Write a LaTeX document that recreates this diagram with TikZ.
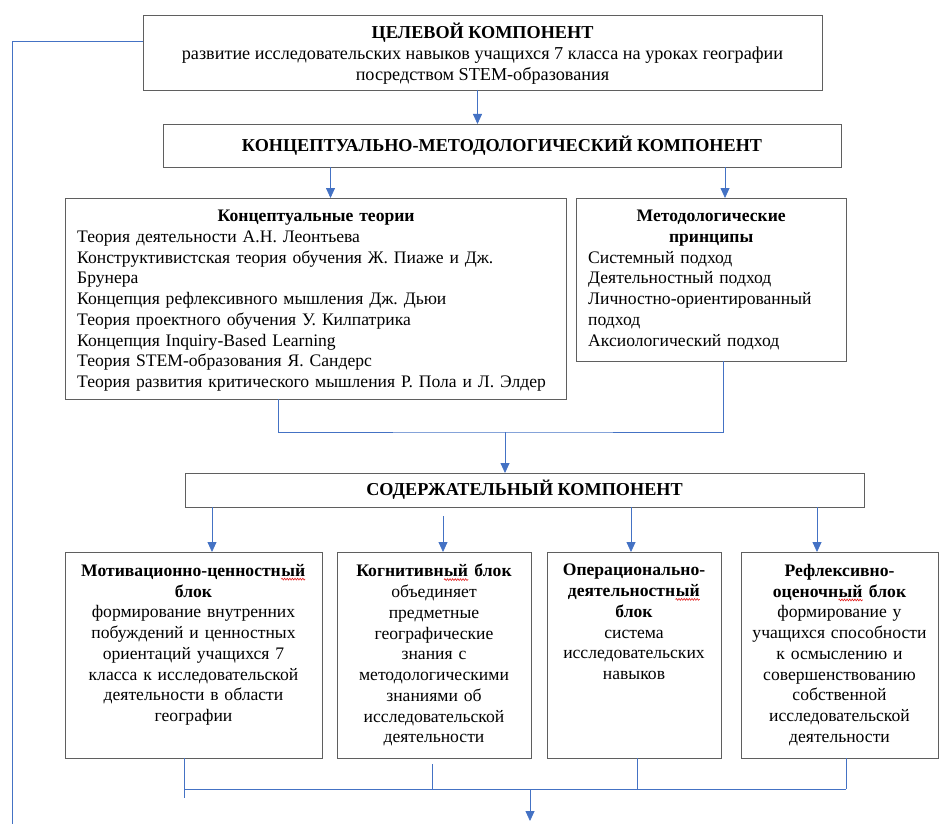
\documentclass[tikz,border=0pt]{standalone}
\usepackage{fontspec}
\setmainfont{Liberation Serif}
\usetikzlibrary{arrows.meta,decorations.pathmorphing}
\frenchspacing

\definecolor{linkblue}{RGB}{68,114,196}
\definecolor{boxgray}{RGB}{95,95,95}
\definecolor{spellred}{RGB}{225,30,30}

\tikzset{
  box/.style={draw=boxgray, line width=0.9pt, inner sep=0pt, outer sep=0pt},
  txt/.style={inner sep=0pt, font=\fontsize{17.6}{20.75}\selectfont},
  headtxt/.style={inner sep=0pt, font=\fontsize{18.2}{21}\selectfont},
  link/.style={draw=linkblue, line width=0.8pt},
  arr/.style={link, -{Triangle[width=9pt,length=10pt]}}
}
%% red wavy underline of the spell checker
\newcommand{\typo}[1]{\tikz[baseline=(t.base)]{\node[inner sep=0pt] (t) {#1};
  \draw[spellred, line width=0.6pt, decorate, decoration={snake, amplitude=0.9pt, segment length=2.6pt}]
    ([yshift=-2.8pt]t.base west) -- ([yshift=-2.8pt]t.base east);}}

\begin{document}
\begin{tikzpicture}[x=1pt,y=-1pt]
\useasboundingbox (0,0) rectangle (939,824);
%% The boxes are placed at pixel coordinates, y grows downwards
    \node[box, minimum width=679pt, minimum height=75pt] (goal) at (482.5,52.5) {};
    \node[box, minimum width=678pt, minimum height=43pt] (concept) at (502,145.5) {};
    \node[box, minimum width=501pt, minimum height=201pt] (teor) at (315.5,298.5) {};
    \node[box, minimum width=270pt, minimum height=163pt] (princ) at (711,279.5) {};
    \node[box, minimum width=679pt, minimum height=34pt] (content) at (524.5,490) {};
    \node[box, minimum width=257pt, minimum height=206pt] (motiv) at (193.5,655) {};
    \node[box, minimum width=194pt, minimum height=206pt] (cogn) at (434,655) {};
    \node[box, minimum width=174pt, minimum height=206pt] (oper) at (634,655) {};
    \node[box, minimum width=197pt, minimum height=206pt] (refl) at (839.5,655) {};
%% Texts of the boxes
    \node[headtxt, align=center] (goaltext) at ([yshift=-1pt]goal) {\textbf{ЦЕЛЕВОЙ КОМПОНЕНТ}\\
      развитие исследовательских навыков учащихся 7 класса на уроках географии\\
      посредством STEM-образования};
    \node[headtxt] (concepttext) at (concept) {\textbf{КОНЦЕПТУАЛЬНО-МЕТОДОЛОГИЧЕСКИЙ КОМПОНЕНТ}};
    \node[txt, anchor=north west, text width=478pt, align=left] (teortext) at ([xshift=12pt,yshift=-12pt]teor.north west)
      {\hfill\textbf{Концептуальные теории}\hfill\null\\
       Теория деятельности А.Н. Леонтьева\\
       Конструктивистская теория обучения Ж. Пиаже и Дж.\\
       Брунера\\
       Концепция рефлексивного мышления Дж. Дьюи\\
       Теория проектного обучения У. Килпатрика\\
       Концепция Inquiry-Based Learning\\
       Теория STEM-образования Я. Сандерс\\
       Теория развития критического мышления Р. Пола и Л. Элдер};
    \node[txt, anchor=north west, text width=246pt, align=left] (princtext) at ([xshift=12pt,yshift=-12pt]princ.north west)
      {\hfill\textbf{Методологические}\hfill\null\\
       \hfill\textbf{принципы}\hfill\null\\
       Системный подход\\
       Деятельностный подход\\
       Личностно-ориентированный\\
       подход\\
       Аксиологический подход};
    \node[headtxt] (contenttext) at (content) {\textbf{СОДЕРЖАТЕЛЬНЫЙ КОМПОНЕНТ}};
    \node[txt, anchor=north, text width=251pt, align=center] (motivtext) at ([yshift=-12pt]motiv.north)
      {\textbf{Мотивационно-ценностн\typo{ый}}\\ \textbf{блок}\\
       формирование внутренних\\ побуждений и ценностных\\ ориентаций учащихся 7\\
       класса к исследовательской\\ деятельности в области\\ географии};
    \node[txt, anchor=north, text width=190pt, align=center] (cogntext) at ([yshift=-12pt]cogn.north)
      {\textbf{Когнитивн\typo{ый} блок}\\ объединяет\\ предметные\\ географические\\ знания с\\
       методологическими\\ знаниями об\\ исследовательской\\ деятельности};
    \node[txt, anchor=north, text width=170pt, align=center] (opertext) at ([yshift=-12pt]oper.north)
      {\textbf{Операционально-}\\ \textbf{деятельностн\typo{ый}}\\ \textbf{блок}\\
       система\\ исследовательских\\ навыков};
    \node[txt, anchor=north, text width=193pt, align=center] (refltext) at ([yshift=-12pt]refl.north)
      {\textbf{Рефлексивно-}\\ \textbf{оценочн\typo{ый} блок}\\ формирование у\\ учащихся способности\\
       к осмыслению и\\ совершенствованию\\ собственной\\ исследовательской\\ деятельности};
%% Connectors
    \coordinate (g1) at ([xshift=-5pt]goal.south);
    \draw[arr] (g1) -- (g1 |- concept.north);
    \coordinate (c1) at ([xshift=15pt]teor.north);
    \coordinate (c2) at ([xshift=14pt]princ.north);
    \draw[arr] (c1 |- concept.south) -- (c1);
    \draw[arr] (c2 |- concept.south) -- (c2);
    \coordinate (t1) at ([xshift=-37pt]teor.south);
    \coordinate (p1) at ([xshift=12pt]princ.south);
    \coordinate (merge) at (505,432);
    \draw[link] (t1) |- (merge) -| (p1);
    \draw[arr] (merge) -- (merge |- content.north);
    \coordinate (b1) at ([xshift=18.5pt]motiv.north);
    \coordinate (b2) at ([xshift=9pt]cogn.north);
    \coordinate (b3) at ([xshift=-3pt]oper.north);
    \coordinate (b4) at ([xshift=-22.5pt]refl.north);
    \draw[arr] (b1 |- content.south) -- (b1);
    \draw[arr] ([yshift=-9pt]b2 |- content.south) -- (b2);
    \draw[arr] (b3 |- content.south) -- (b3);
    \draw[arr] (b4 |- content.south) -- (b4);
%% bottom collector
    \coordinate (bus) at (530,789);
    \coordinate (m1) at ([xshift=-9.5pt]motiv.south);
    \coordinate (m2) at ([xshift=-2pt,yshift=-6pt]cogn.south);
    \coordinate (m3) at ([xshift=3pt]oper.south);
    \coordinate (m4) at ([xshift=6.5pt]refl.south);
    \coordinate (tail) at (184,798);
    \coordinate (outend) at (530,821);
    \draw[link] (m1) -- (tail);
    \draw[link] (m2) -- (m2 |- bus);
    \draw[link] (m3) -- (m3 |- bus);
    \draw[link] (m4) -- (m4 |- bus);
    \draw[link] (m1 |- bus) -- (m4 |- bus);
    \draw[arr] (bus) -- (outend);
%% feedback line on the left
    \coordinate (fb) at (12,824);
    \draw[link] ([yshift=11.5pt]goal.west) -| (fb);
\end{tikzpicture}
\end{document}
